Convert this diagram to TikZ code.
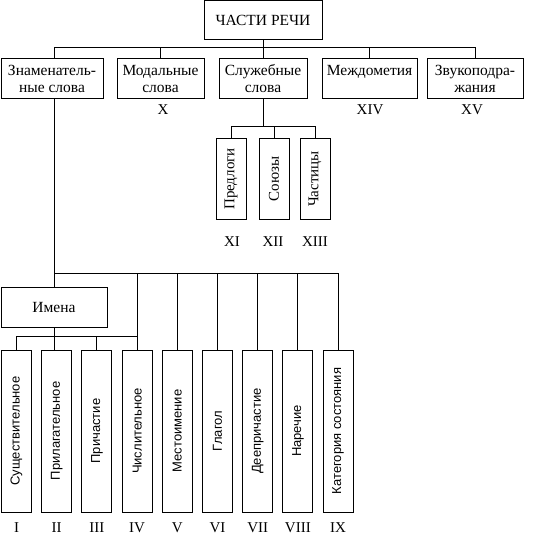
\documentclass[tikz,border=0pt]{standalone}
\usepackage{fontspec}
\setmainfont{Liberation Serif}
\newfontfamily\rotfont{Liberation Sans}

\tikzset{
	box/.style={draw, align=center, inner sep=0pt, font=\fontsize{15.5}{17}\selectfont},
	pbox/.style={box, minimum width=30, minimum height=80, font=\fontsize{15}{17}\selectfont},
	vbox/.style={box, minimum width=30, minimum height=162, font=\rotfont\fontsize{13}{15}\selectfont},
	num/.style={inner sep=0pt, font=\fontsize{15}{17}\selectfont},
}

\begin{document}
\begin{tikzpicture}[x=1pt, y=-1pt, line width=1pt]
		\useasboundingbox (0,0) rectangle (535,548);
		% Boxes:
		\node[box, minimum width=118, minimum height=39] (chasti) at (263, 20){ЧАСТИ РЕЧИ};
		\node[box, minimum width=102, minimum height=40] (znam) at (52, 79){Знаменатель-\\ные слова};
		\node[box, minimum width=87, minimum height=40] (modal) at (160.5, 79){Модальные\\слова};
		\node[box, minimum width=88, minimum height=40] (sluzh) at (263, 79){Служебные\\слова};
		\node[box, minimum width=95, minimum height=40] (mezhd) at (369.5, 79){Междометия\\~};
		\node[box, minimum width=96, minimum height=40] (zvuk) at (475, 79){Звукоподра-\\жания};
		\node[pbox] (predl) at (231, 179){\rotatebox{90}{Предлоги}};
		\node[pbox] (soyuz) at (274, 179){\rotatebox{90}{Союзы}};
		\node[pbox] (chast) at (315, 179){\rotatebox{90}{Частицы}};
		\node[box, minimum width=106, minimum height=40] (imena) at (54, 307){Имена};
		\node[vbox] (b1) at (16.5, 431){\rotatebox{90}{Существительное}};
		\node[vbox] (b2) at (56.7, 431){\rotatebox{90}{Прилагательное}};
		\node[vbox] (b3) at (96.9, 431){\rotatebox{90}{Причастие}};
		\node[vbox] (b4) at (137.1, 431){\rotatebox{90}{Числительное}};
		\node[vbox] (b5) at (177.3, 431){\rotatebox{90}{Местоимение}};
		\node[vbox] (b6) at (217.5, 431){\rotatebox{90}{Глагол}};
		\node[vbox] (b7) at (257.7, 431){\rotatebox{90}{Деепричастие}};
		\node[vbox] (b8) at (297.9, 431){\rotatebox{90}{Наречие}};
		\node[vbox] (b9) at (338.1, 431){\rotatebox{90}{Категория состояния}};
		% Numbers:
		\node[num] (nX) at (163, 110){X};
		\node[num] (nXIV) at (370, 110){XIV};
		\node[num] (nXV) at (472, 110){XV};
		\node[num] (nXI) at (232, 242){XI};
		\node[num] (nXII) at (273, 242){XII};
		\node[num] (nXIII) at (315, 242){XIII};
		\node[num] (nI) at (16.5, 528){I};
		\node[num] (nII) at (56.7, 528){II};
		\node[num] (nIII) at (96.9, 528){III};
		\node[num] (nIV) at (137.1, 528){IV};
		\node[num] (nV) at (177.3, 528){V};
		\node[num] (nVI) at (217.5, 528){VI};
		\node[num] (nVII) at (257.7, 528){VII};
		\node[num] (nVIII) at (297.9, 528){VIII};
		\node[num] (nIX) at (338.1, 528){IX};
		% Buses and wires:
		\coordinate (busA) at (0, 48);
		\coordinate (busB) at (0, 127);
		\coordinate (busC) at (0, 273);
		\coordinate (busD) at (0, 336);
		\draw (chasti.south) -- (chasti.south |- busA);
		\draw (imena.north |- znam.north) -- (imena.north |- busA) -- (zvuk.north |- busA) -- (zvuk.north);
		\draw (modal.north) -- (modal.north |- busA);
		\draw (sluzh.north) -- (sluzh.north |- busA);
		\draw (mezhd.north) -- (mezhd.north |- busA);
		\draw (sluzh.south) -- (sluzh.south |- busB);
		\draw (predl.north) -- (predl.north |- busB) -- (chast.north |- busB) -- (chast.north);
		\draw (soyuz.north) -- (soyuz.north |- busB);
		\draw (imena.north |- znam.south) -- (imena.north);
		\draw (imena.north |- busC) -- (b9.north |- busC) -- (b9.north);
		\draw (imena.south) -- (imena.south |- b2.north);
		\draw (b1.north) -- (b1.north |- busD) -- (b4.north |- busD);
		\draw (b3.north) -- (b3.north |- busD);
		\draw (b4.north) -- (b4.north |- busC);
		\draw (b5.north) -- (b5.north |- busC);
		\draw (b6.north) -- (b6.north |- busC);
		\draw (b7.north) -- (b7.north |- busC);
		\draw (b8.north) -- (b8.north |- busC);
	\end{tikzpicture}
\end{document}
